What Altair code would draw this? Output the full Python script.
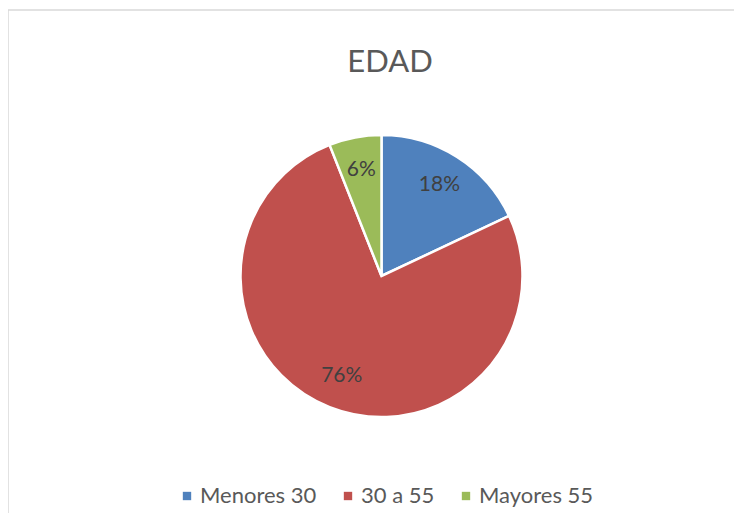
import altair as alt
import pandas as pd

categories = ["Menores 30", "30 a 55", "Mayores 55"]
values = [18, 76, 6]
labels = ["18%", "76%", "6%"]
colors = ["#4F81BD", "#C0504D", "#9BBB59"]

df = pd.DataFrame({
    "cat": categories,
    "value": values,
    "label": labels,
    "idx": list(range(len(categories))),
})

W, H = 726, 505
CX, CY = 373.5, 268

base = alt.Chart(df).encode(
    theta=alt.Theta("value:Q", stack=True),
    order=alt.Order("idx:Q", sort="ascending"),
    x=alt.value(CX),
    y=alt.value(CY),
)

pie = base.mark_arc(outerRadius=141, stroke="white", strokeWidth=2.5).encode(
    color=alt.Color(
        "cat:N",
        scale=alt.Scale(domain=categories, range=colors),
        sort=categories,
        legend=alt.Legend(
            title=None,
            orient="none",
            direction="horizontal",
            legendX=168,
            legendY=477,
            symbolType="square",
            symbolSize=70,
            symbolStrokeWidth=0,
            symbolOpacity=1,
            labelFont="Lato",
            labelFontSize=22,
            labelColor="#595959",
            labelOffset=2,
            columnPadding=20,
        ),
    )
)

text = base.mark_text(radius=108, font="Lato", fontSize=21, color="#404040").encode(
    text="label:N"
)

border_df = pd.DataFrame({"a": [0]})
left_rule = alt.Chart(border_df).mark_rule(color="#d9d9d9", strokeWidth=1.5).encode(
    x=alt.value(0), y=alt.value(2), y2=alt.value(H + 10)
)
top_rule = alt.Chart(border_df).mark_rule(color="#d9d9d9", strokeWidth=1.5).encode(
    x=alt.value(0), x2=alt.value(W + 10), y=alt.value(2)
)

chart = alt.layer(left_rule, top_rule, pie, text).properties(
    width=W,
    height=H,
    padding=0,
    autosize=alt.AutoSizeParams(type="none"),
    title=alt.TitleParams(
        "EDAD",
        anchor="middle",
        orient="top",
        offset=0,
        baseline="alphabetic",
        dy=95,
        dx=19,
        font="Lato",
        fontSize=31,
        fontWeight="normal",
        color="#595959",
    ),
).configure_view(stroke=None)

chart.save("out.html", embed_options={"renderer": "svg", "actions": False})
